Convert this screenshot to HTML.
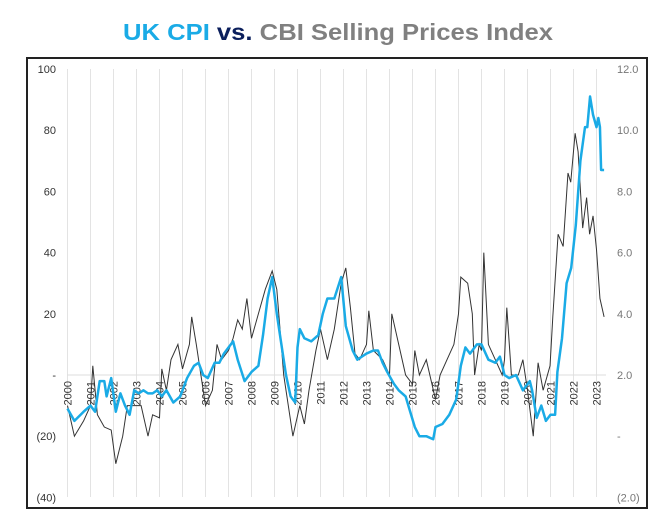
<!DOCTYPE html>
<html><head><meta charset="utf-8"><style>
body{margin:0;background:#fff;width:661px;height:514px;overflow:hidden;font-family:"Liberation Sans",sans-serif}
</style></head><body>
<svg id="chart" width="661" height="514" xmlns="http://www.w3.org/2000/svg" font-family="Liberation Sans, sans-serif">
<text x="123" y="40" font-size="23" font-weight="bold" textLength="430" lengthAdjust="spacingAndGlyphs"><tspan fill="#1AABE6">UK CPI</tspan> <tspan fill="#0B1F5C">vs.</tspan> <tspan fill="#808080">CBI Selling Prices Index</tspan></text>
<rect x="27" y="58" width="620" height="450" fill="none" stroke="#222" stroke-width="2"/>
<g id="grid"></g><g id="axes"></g><g id="series"></g>
</svg>
<script>
const leftTicks=[100,80,60,40,20,0,-20,-40];
const leftLabels=["100","80","60","40","20","-","(20)","(40)"];
const rightTicks=[12,10,8,6,4,2,0,-2];
const rightLabels=["12.0","10.0","8.0","6.0","4.0","2.0","-","(2.0)"];
const years=[2000,2001,2002,2003,2004,2005,2006,2007,2008,2009,2010,2011,2012,2013,2014,2015,2016,2017,2018,2019,2020,2021,2022,2023];
const cbiX=[2000,2000.3,2000.7,2001,2001.1,2001.3,2001.6,2001.9,2002.1,2002.4,2002.6,2002.9,2003.2,2003.5,2003.7,2004,2004.1,2004.3,2004.5,2004.8,2005,2005.3,2005.4,2005.6,2005.9,2006,2006.3,2006.5,2006.7,2007,2007.2,2007.4,2007.6,2007.8,2008,2008.3,2008.6,2008.9,2009.1,2009.4,2009.6,2009.8,2010.1,2010.3,2010.5,2010.8,2011,2011.3,2011.6,2011.9,2012.1,2012.3,2012.5,2012.7,2013,2013.1,2013.3,2013.7,2014,2014.1,2014.4,2014.7,2015,2015.1,2015.3,2015.6,2016,2016.2,2016.5,2016.8,2017,2017.1,2017.4,2017.6,2017.7,2017.9,2018,2018.1,2018.3,2018.6,2018.9,2019,2019.1,2019.3,2019.6,2019.8,2020,2020.25,2020.46,2020.68,2020.98,2021.1,2021.33,2021.55,2021.76,2021.88,2022.07,2022.2,2022.4,2022.57,2022.7,2022.85,2023,2023.15,2023.33];
const cbiV=[-10,-20,-15,-10,3,-13,-17,-18,-29,-20,-10,-10,-10,-20,-13,-14,2,-5,5,10,2,10,19,10,-5,-10,-5,10,5,8,12,18,15,25,12,20,28,34,28,0,-10,-20,-10,-16,-5,8,15,5,15,30,35,22,7,5,10,21,8,5,0,20,10,0,-3,8,0,5,-8,0,5,10,20,32,30,20,0,10,8,40,10,5,0,5,22,0,0,5,-5,-20,4,-5,3,19,46,42,66,63,79,73,48,58,46,52,41,25,19];
const cpiX=[2000,2000.3,2000.7,2001,2001.2,2001.4,2001.6,2001.7,2001.9,2002.1,2002.3,2002.5,2002.7,2002.9,2003.1,2003.3,2003.5,2003.7,2003.9,2004.1,2004.3,2004.6,2004.9,2005.2,2005.5,2005.7,2005.9,2006.1,2006.4,2006.6,2006.8,2007,2007.2,2007.4,2007.7,2008,2008.3,2008.5,2008.7,2008.9,2009.1,2009.3,2009.5,2009.7,2009.9,2010,2010.1,2010.3,2010.6,2010.9,2011.1,2011.3,2011.6,2011.9,2012.1,2012.4,2012.6,2012.8,2013,2013.3,2013.5,2013.7,2013.9,2014.2,2014.4,2014.7,2014.9,2015.1,2015.3,2015.6,2015.9,2016,2016.3,2016.6,2016.9,2017.1,2017.3,2017.5,2017.8,2018,2018.3,2018.6,2018.8,2019,2019.2,2019.5,2019.8,2020.1,2020.2,2020.4,2020.6,2020.8,2021,2021.2,2021.3,2021.5,2021.7,2021.9,2022.1,2022.3,2022.5,2022.6,2022.72,2022.85,2023,2023.08,2023.15,2023.2,2023.33];
const cpiV=[0.9,0.5,0.8,1.0,0.8,1.8,1.8,1.3,1.9,0.8,1.4,1.0,0.7,1.5,1.4,1.5,1.4,1.4,1.5,1.3,1.5,1.1,1.3,1.9,2.3,2.4,2.0,1.9,2.4,2.4,2.7,2.9,3.1,2.5,1.8,2.1,2.3,3.3,4.5,5.2,4.0,3.0,2.0,1.3,1.1,2.9,3.5,3.2,3.1,3.3,4.0,4.5,4.5,5.2,3.6,2.8,2.5,2.6,2.7,2.8,2.8,2.4,2.1,1.7,1.5,1.3,0.8,0.3,0.0,0.0,-0.1,0.3,0.4,0.7,1.2,2.3,2.9,2.7,3.0,3.0,2.5,2.4,2.6,2.0,1.9,2.0,1.5,1.8,1.5,0.6,1.0,0.5,0.7,0.7,2.1,3.2,5.0,5.5,6.9,9.0,10.1,10.1,11.1,10.5,10.1,10.4,10.1,8.7,8.7];

const NS="http://www.w3.org/2000/svg";
const x=t=>67.5+(t-2000)*23;
const yL=v=>375-v*3.06;
const yR=v=>375-(v-2)*30.6;
function mk(tag,attrs,parent){const e=document.createElementNS(NS,tag);for(const k in attrs)e.setAttribute(k,attrs[k]);parent.appendChild(e);return e;}
const grid=document.getElementById('grid'),axes=document.getElementById('axes'),ser=document.getElementById('series');
years.forEach(yr=>{
  const l=mk('line',{x1:x(yr),x2:x(yr),y1:69,y2:497,stroke:'#e3e3e3','stroke-width':1},grid);
  
  
  const t=mk('text',{x:0,y:0,'font-size':11,fill:'#333','text-anchor':'end',transform:`translate(${x(yr)+4},381) rotate(-90)`},axes);
  t.textContent=yr;
  
  
});
const zl=mk('line',{x1:67,x2:606,y1:yL(0),y2:yL(0),stroke:'#dcdcdc','stroke-width':1},grid);


leftTicks.forEach((v,i)=>{
  const t=mk('text',{x:56,y:yL(v)+4,'font-size':11,fill:'#333','text-anchor':'end'},axes);
  t.textContent=leftLabels[i];
  
  
});
rightTicks.forEach((v,i)=>{
  const t=mk('text',{x:617,y:yR(v)+4,'font-size':11,fill:'#777','text-anchor':'start'},axes);
  t.textContent=rightLabels[i];
  
  
});
const cbi=mk('polyline',{points:cbiX.map((t,i)=>x(t)+','+yL(cbiV[i])).join(' '),fill:'none',stroke:'#333','stroke-width':1},ser);


const cpi=mk('polyline',{points:cpiX.map((t,i)=>x(t)+','+yR(cpiV[i])).join(' '),fill:'none',stroke:'#1AABE6','stroke-width':2.5,'stroke-linejoin':'round'},ser);


</script>
</body></html>
